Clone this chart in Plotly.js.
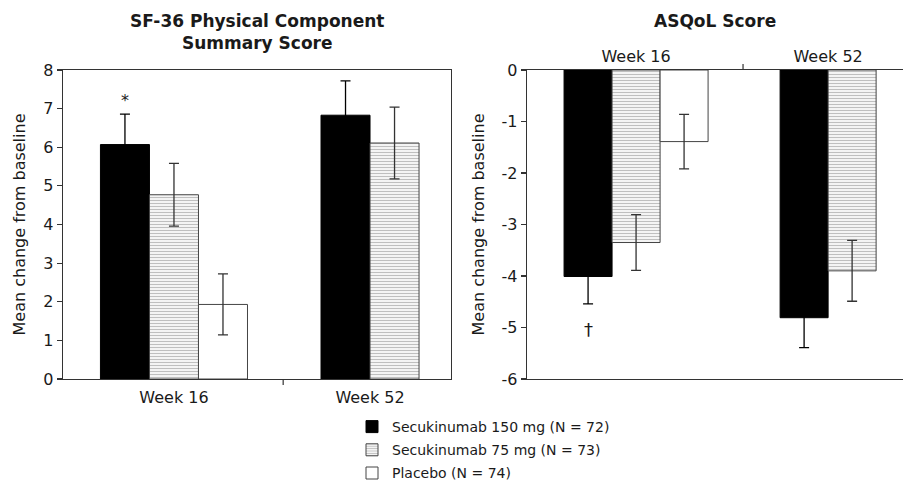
<!DOCTYPE html>
<html>
<head>
<meta charset="utf-8">
<script src="https://cdn.plot.ly/plotly-3.0.1.min.js"></script>
<style>
  html, body { margin: 0; padding: 0; background: #fff; }
  #chart { width: 903px; height: 480px; }
</style>
</head>
<body>
<div id="chart"></div>
<script>
// ---------------- DATA ----------------
const weeks = ['Week 16', 'Week 52'];
const seriesNames = ['Secukinumab 150 mg (N = 72)', 'Secukinumab 75 mg (N = 73)', 'Placebo (N = 74)'];

// SF-36 Physical Component Summary Score (mean change from baseline)
const pcs150 = [6.07, 6.83];
const pcs150Err = [0.79, 0.89];
const pcs75 = [4.77, 6.11];
const pcs75Err = [0.81, 0.93];
const pcsPbo = [1.93];          // Week 16 only
const pcsPboErr = [0.79];

// ASQoL Score (mean change from baseline)
const asq150 = [-4.01, -4.81];
const asq150Err = [0.53, 0.58];
const asq75 = [-3.35, -3.90];
const asq75Err = [0.54, 0.59];
const asqPbo = [-1.39];         // Week 16 only
const asqPboErr = [0.53];

const leftTitle = 'SF-36 Physical Component<br>Summary Score';
const rightTitle = 'ASQoL Score';
const yTitle = 'Mean change from baseline';
const pcsTicks = [0, 1, 2, 3, 4, 5, 6, 7, 8];
const asqTicks = [0, -1, -2, -3, -4, -5, -6];
const pcsMarks = ['*'];  // Secukinumab 150 mg, Week 16
const asqMarks = ['†'];  // Secukinumab 150 mg, Week 16

// ---------------- STYLE ----------------
const FONT = 'DejaVu Sans, Arial, sans-serif';
const TXT = '#1a1a1a';
const AX = '#333';
const barW = 0.25;

const styles = [
  { color: '#000000', line: { color: '#000', width: 1 } },
  { color: '#ffffff', line: { color: '#444', width: 1 },
    pattern: { shape: '-', size: 3, solidity: 0.45, fgcolor: '#7f7f7f', bgcolor: '#ffffff', fillmode: 'overlay' } },
  { color: '#ffffff', line: { color: '#444', width: 1 } }
];
const errColors = ['#000', AX, AX];

function offsetsFor(seriesSets) {
  const nWeeks = weeks.length;
  const out = seriesSets.map(() => []);
  for (let i = 0; i < nWeeks; i++) {
    const present = seriesSets.map((s, j) => (i < s.length ? j : -1)).filter(j => j >= 0);
    const n = present.length;
    present.forEach((j, k) => { out[j][i] = -n * barW / 2 + k * barW; });
  }
  return out;
}

function makeTraces(vals, errs, xa, ya, showLegend) {
  const offs = offsetsFor(vals);
  return vals.map((v, j) => ({
    type: 'bar',
    x: weeks.slice(0, v.length),
    y: v,
    name: seriesNames[j],
    legendgroup: 'g' + j,
    showlegend: showLegend,
    width: barW,
    offset: offs[j].slice(0, v.length),
    marker: styles[j],
    error_y: { type: 'data', array: errs[j], visible: true, color: errColors[j], thickness: 1.3, width: 5 },
    xaxis: xa, yaxis: ya,
    hoverinfo: 'skip'
  }));
}

const traces = [
  ...makeTraces([pcs150, pcs75, pcsPbo], [pcs150Err, pcs75Err, pcsPboErr], 'x', 'y', true),
  ...makeTraces([asq150, asq75, asqPbo], [asq150Err, asq75Err, asqPboErr], 'x2', 'y2', false)
];

const W = 903, H = 480;
const yDom = [(H - 379) / H, (H - 70) / H];

const tickFont = { family: FONT, size: 16, color: TXT };

const layout = {
  width: W, height: H,
  margin: { l: 0, r: 0, t: 0, b: 0, autoexpand: false },
  paper_bgcolor: '#fff', plot_bgcolor: '#fff',
  barmode: 'overlay',
  showlegend: true,
  font: { family: FONT, color: TXT },
  xaxis: {
    domain: [63 / W, 451 / W], anchor: 'y', type: 'category',
    range: [-0.566, 1.413], showgrid: false, zeroline: false,
    showline: true, linecolor: AX, linewidth: 1.3, mirror: true,
    ticks: '', tickfont: tickFont, ticklabelstandoff: 3
  },
  yaxis: {
    domain: yDom, anchor: 'x', range: [0, 8],
    tickvals: pcsTicks, ticktext: pcsTicks.map(String),
    showgrid: false, zeroline: false,
    showline: true, linecolor: AX, linewidth: 1.3, mirror: true,
    ticks: 'outside', ticklen: 5, tickcolor: AX, tickwidth: 1.2,
    tickfont: tickFont,
    title: { text: yTitle, font: { family: FONT, size: 16, color: TXT }, standoff: 13 }
  },
  xaxis2: {
    domain: [527 / W, 1], anchor: 'y2', type: 'category', side: 'top',
    range: [-0.568, 1.39], showgrid: false, zeroline: false,
    showline: true, linecolor: AX, linewidth: 1.3, mirror: true,
    ticks: '', tickfont: tickFont
  },
  yaxis2: {
    domain: yDom, anchor: 'x2', range: [-6, 0],
    tickvals: asqTicks, ticktext: asqTicks.map(String),
    showgrid: false, zeroline: false,
    showline: true, linecolor: AX, linewidth: 1.3, mirror: false,
    ticks: 'outside', ticklen: 5, tickcolor: AX, tickwidth: 1.2,
    tickfont: tickFont,
    title: { text: yTitle, font: { family: FONT, size: 16, color: TXT }, standoff: 13 }
  },
  legend: {
    x: 352 / W, xanchor: 'left', y: (H - 411) / H, yanchor: 'top',
    orientation: 'v', font: { family: FONT, size: 14, color: TXT },
    bgcolor: 'rgba(0,0,0,0)', traceorder: 'grouped', tracegroupgap: 2, itemclick: false
  },
  shapes: [
    { type: 'line', xref: 'x', yref: 'paper', x0: 0.557, x1: 0.557, y0: yDom[0], y1: yDom[0] - 6 / H, line: { color: AX, width: 1.2 } },
    { type: 'line', xref: 'x2', yref: 'paper', x0: 0.557, x1: 0.557, y0: yDom[1], y1: yDom[1] + 6 / H, line: { color: AX, width: 1.2 } }
  ],
  annotations: [
    { text: '<b>' + leftTitle.replace('<br>', '</b><br><b>') + '</b>', xref: 'paper', yref: 'paper',
      x: 257 / W, y: 1 - 9 / H, xanchor: 'center', yanchor: 'top', showarrow: false,
      font: { family: FONT, size: 17, color: TXT } },
    { text: '<b>' + rightTitle + '</b>', xref: 'paper', yref: 'paper',
      x: 715 / W, y: 1 - 9 / H, xanchor: 'center', yanchor: 'top', showarrow: false,
      font: { family: FONT, size: 17, color: TXT } },
    { text: pcsMarks[0], xref: 'x', yref: 'y', x: weeks[0],
      xshift: -barW * 196, y: pcs150[0] + pcs150Err[0], yshift: 2, yanchor: 'bottom',
      showarrow: false, font: { family: FONT, size: 16, color: TXT } },
    { text: asqMarks[0], xref: 'x2', yref: 'y2', x: weeks[0],
      xshift: -barW * 192, y: asq150[0] - asq150Err[0], yshift: -13, yanchor: 'top',
      showarrow: false, font: { family: FONT, size: 18, color: TXT } }
  ]
};

Plotly.newPlot('chart', traces, layout, { displayModeBar: false, staticPlot: true });
</script>
</body>
</html>
